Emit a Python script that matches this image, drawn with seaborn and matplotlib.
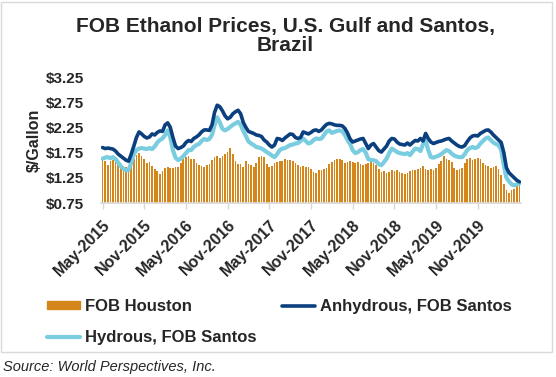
import matplotlib
matplotlib.use("Agg")
import matplotlib.pyplot as plt
import matplotlib.patches as mpatches
import pandas as pd
import seaborn as sns

fob_houston = [
    1.60, 1.58, 1.50, 1.58, 1.60, 1.56, 1.50, 1.45, 1.43, 1.46,
    1.44, 1.48, 1.62, 1.70, 1.74, 1.68, 1.62, 1.55, 1.56, 1.48,
    1.42, 1.38, 1.33, 1.38, 1.45, 1.47, 1.44, 1.44, 1.46, 1.47,
    1.55, 1.62, 1.66, 1.68, 1.62, 1.62, 1.55, 1.50, 1.48, 1.47,
    1.50, 1.53, 1.60, 1.66, 1.68, 1.64, 1.68, 1.72, 1.76, 1.85,
    1.72, 1.58, 1.52, 1.52, 1.47, 1.58, 1.52, 1.50, 1.46, 1.55,
    1.66, 1.68, 1.66, 1.52, 1.47, 1.48, 1.55, 1.57, 1.58, 1.58,
    1.62, 1.60, 1.60, 1.58, 1.54, 1.50, 1.47, 1.48, 1.47, 1.47,
    1.42, 1.37, 1.35, 1.40, 1.40, 1.43, 1.45, 1.52, 1.56, 1.60,
    1.63, 1.62, 1.60, 1.55, 1.56, 1.58, 1.56, 1.55, 1.57, 1.52,
    1.50, 1.52, 1.55, 1.57, 1.55, 1.50, 1.42, 1.37, 1.38, 1.35,
    1.37, 1.40, 1.38, 1.40, 1.36, 1.34, 1.33, 1.35, 1.38, 1.40,
    1.40, 1.42, 1.45, 1.48, 1.42, 1.41, 1.42, 1.40, 1.45, 1.52,
    1.58, 1.68, 1.63, 1.60, 1.57, 1.45, 1.40, 1.43, 1.44, 1.55,
    1.62, 1.65, 1.60, 1.63, 1.65, 1.62, 1.55, 1.50, 1.48, 1.45,
    1.47, 1.48, 1.42, 1.30, 1.12, 1.00, 0.95, 1.00, 1.02, 1.08,
    1.10,
]
anhydrous = [
    1.85, 1.83, 1.84, 1.83, 1.82, 1.78, 1.72, 1.68, 1.64, 1.60,
    1.58, 1.72, 1.88, 2.05, 2.16, 2.12, 2.07, 2.04, 2.06, 2.12,
    2.10, 2.15, 2.18, 2.17, 2.30, 2.34, 2.25, 2.05, 1.88, 1.83,
    1.85, 1.88, 1.95, 1.99, 1.97, 2.03, 2.06, 2.10, 2.16, 2.20,
    2.20, 2.19, 2.30, 2.55, 2.69, 2.66, 2.58, 2.48, 2.42, 2.45,
    2.52, 2.56, 2.59, 2.52, 2.35, 2.25, 2.17, 2.15, 2.13, 2.10,
    2.09, 2.07, 2.00, 1.96, 1.90, 1.86, 1.90, 2.03, 2.02, 1.99,
    2.04, 2.08, 2.12, 2.11, 2.05, 2.03, 2.05, 2.16, 2.14, 2.12,
    2.15, 2.19, 2.20, 2.17, 2.20, 2.26, 2.31, 2.33, 2.32, 2.30,
    2.29, 2.29, 2.28, 2.23, 2.14, 2.02, 1.96, 1.98, 2.00, 2.02,
    2.03, 1.93, 1.83, 1.90, 1.93, 1.86, 1.79, 1.76, 1.82, 1.88,
    1.98, 2.03, 2.02, 1.96, 1.92, 1.91, 1.90, 1.94, 1.90, 1.95,
    1.99, 1.98, 2.03, 1.98, 2.13, 2.03, 1.96, 1.93, 1.95, 1.97,
    1.98, 2.00, 2.02, 2.03, 1.98, 1.94, 1.90, 1.87, 1.86, 1.89,
    1.97, 2.04, 2.08, 2.09, 2.08, 2.13, 2.16, 2.19, 2.20, 2.16,
    2.10, 2.05, 2.00, 1.95, 1.75, 1.45, 1.35, 1.30, 1.25, 1.20,
    1.17,
]
hydrous = [
    1.63, 1.65, 1.66, 1.64, 1.66, 1.62, 1.55, 1.48, 1.43, 1.40,
    1.40, 1.55, 1.72, 1.80, 1.83, 1.84, 1.83, 1.82, 1.84, 1.82,
    1.87, 1.95, 2.00, 2.03, 2.10, 2.19, 2.05, 1.80, 1.65, 1.60,
    1.63, 1.68, 1.74, 1.80, 1.80, 1.86, 1.90, 1.92, 1.98, 2.02,
    2.00, 2.02, 2.10, 2.30, 2.45, 2.35, 2.22, 2.19, 2.22, 2.26,
    2.30, 2.33, 2.36, 2.30, 2.18, 2.08, 1.97, 1.93, 1.90, 1.86,
    1.85, 1.83, 1.80, 1.76, 1.73, 1.69, 1.66, 1.72, 1.80, 1.83,
    1.84, 1.87, 1.90, 1.91, 1.93, 1.94, 1.98, 2.03, 1.98, 1.93,
    1.95, 2.00, 2.03, 2.02, 2.03, 2.10, 2.17, 2.19, 2.14, 2.16,
    2.18, 2.19, 2.17, 2.10, 2.00, 1.92, 1.80, 1.74, 1.76, 1.80,
    1.82, 1.75, 1.62, 1.60, 1.60, 1.58, 1.52, 1.50, 1.56, 1.63,
    1.74, 1.83, 1.80, 1.76, 1.74, 1.73, 1.72, 1.74, 1.70, 1.77,
    1.83, 1.82, 1.78, 1.92, 1.99, 1.80, 1.66, 1.65, 1.67, 1.69,
    1.72, 1.76, 1.80, 1.78, 1.73, 1.69, 1.67, 1.66, 1.66, 1.72,
    1.80, 1.84, 1.86, 1.84, 1.86, 1.93, 1.98, 2.03, 2.05, 2.00,
    1.95, 1.92, 1.90, 1.80, 1.50, 1.25, 1.18, 1.12, 1.10, 1.12,
    1.14,
]
tick_labels = ["May-2015", "Nov-2015", "May-2016", "Nov-2016", "May-2017",
               "Nov-2017", "May-2018", "Nov-2018", "May-2019", "Nov-2019"]
y_ticks = [0.75, 1.25, 1.75, 2.25, 2.75, 3.25]

ORANGE = "#D4861A"
NAVY = "#0B3F7E"
LIGHT = "#7ACDE0"

df = pd.DataFrame({
    "obs": range(len(fob_houston)),
    "fob": fob_houston,
    "anh": anhydrous,
    "hyd": hydrous,
})

sns.set_theme(style="white")
plt.rcParams["font.family"] = ["Liberation Sans", "DejaVu Sans"]

fig = plt.figure(figsize=(5.56, 3.77), dpi=100)
ax = fig.add_axes([101 / 556, 1 - 203 / 377, 420 / 556, 126 / 377])

sns.barplot(data=df, x="obs", y="fob", color=ORANGE, width=0.65,
            saturation=1, linewidth=0, ax=ax, label="FOB Houston")
sns.lineplot(data=df, x="obs", y="hyd", color=LIGHT, lw=3.0, ax=ax,
             label="Hydrous, FOB Santos")
sns.lineplot(data=df, x="obs", y="anh", color=NAVY, lw=2.6, ax=ax,
             label="Anhydrous, FOB Santos")

ax.set_xlim(-0.6, len(fob_houston) - 0.4)
ax.set_ylim(0.75, 3.25)
ax.set_xticks([i * 16 for i in range(len(tick_labels))])
ax.set_xticklabels(tick_labels, rotation=45, ha="right", rotation_mode="anchor",
                   fontsize=11.5, fontweight="bold")
ax.set_yticks(y_ticks)
ax.set_yticklabels(["\\$%.2f" % v for v in y_ticks], fontsize=11, fontweight="bold")
ax.set_xlabel("")
ax.set_ylabel("$/Gallon", fontsize=11.5, fontweight="bold", labelpad=3)
ax.tick_params(axis="x", length=4, width=1, color="#D9D9D9", pad=6, bottom=True)
ax.tick_params(axis="y", length=0, pad=12)
for s in ["left", "right", "top"]:
    ax.spines[s].set_visible(False)
ax.spines["bottom"].set_color("#D9D9D9")
ax.grid(False)

handles, labels = ax.get_legend_handles_labels()
ax.get_legend().remove()
order = {lab: h for h, lab in zip(handles, labels)}
leg_labels = ["FOB Houston", "Hydrous, FOB Santos", "Anhydrous, FOB Santos"]
leg_handles = [mpatches.Patch(color=ORANGE)] + [order[l] for l in leg_labels[1:]]
fig.legend(leg_handles, leg_labels, loc="upper left", ncol=2,
           bbox_to_anchor=(47 / 556, 1 - 299 / 377), frameon=False,
           prop={"size": 12, "weight": "bold"}, handlelength=2.0,
           handleheight=0.4, handletextpad=0.3, columnspacing=1.5,
           labelspacing=0.95, borderpad=0, borderaxespad=0)

fig.text(285 / 556, 1 - 36 / 377, "FOB Ethanol Prices, U.S. Gulf and Santos,\nBrazil",
         ha="center", va="center", fontsize=15, fontweight="bold", linespacing=1.05)
fig.text(3 / 556, 1 - 367 / 377, "Source: World Perspectives, Inc.",
         ha="left", va="center", fontsize=10.5, style="italic")
fig.patches.append(mpatches.Rectangle((1 / 556, 1 - 352 / 377), 551 / 556, 350 / 377,
                                      transform=fig.transFigure, fill=False,
                                      edgecolor="#D9D9D9", lw=1))

fig.savefig("out.png", dpi=100)
